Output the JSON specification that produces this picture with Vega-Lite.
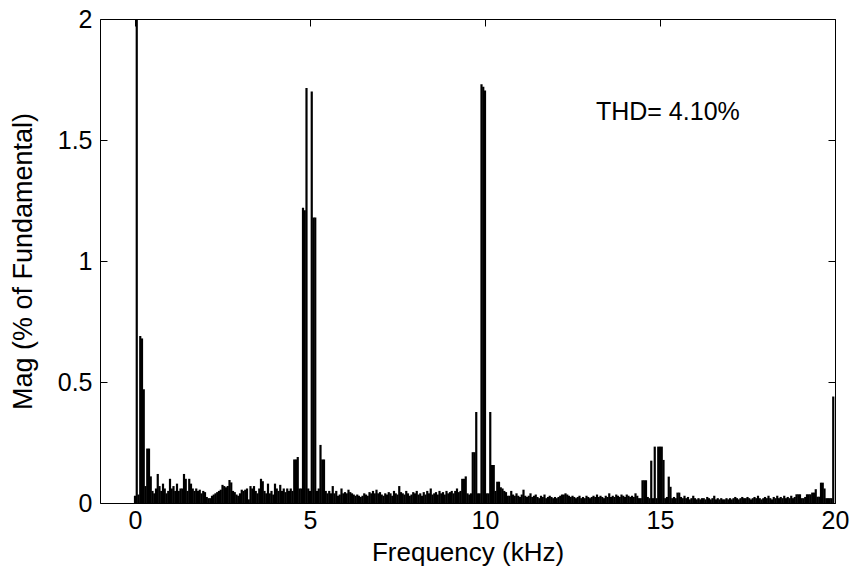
{
 "$schema": "https://vega.github.io/schema/vega-lite/v6.json",
 "width": 735,
 "height": 484,
 "autosize": {"type": "none"},
 "padding": {"left": 100, "top": 19, "right": 15, "bottom": 76},
 "background": "white",
 "config": {
  "view": {"stroke": "black", "strokeWidth": 1},
  "font": "Liberation Sans",
  "axis": {"labelFont": "Liberation Sans", "titleFont": "Liberation Sans", "labelColor": "black", "titleColor": "black", "titleFontWeight": "normal", "labelFontSize": 25, "titleFontSize": 26, "tickColor": "black", "domain": false, "grid": false, "tickSize": -7, "zindex": 1, "labelFlush": false}
 },
 "layer": [
  {
   "data": {"values": [
{"f":0,"m":0.03},{"f":0.05,"m":100},{"f":0.1,"m":0.035},{"f":0.15,"m":0.69},{"f":0.2,"m":0.68},{"f":0.25,"m":0.47},{"f":0.3,"m":0.07},{"f":0.35,"m":0.225},{"f":0.4,"m":0.225},{"f":0.45,"m":0.11},
{"f":0.5,"m":0.05},{"f":0.55,"m":0.04},{"f":0.6,"m":0.06},{"f":0.65,"m":0.12},{"f":0.7,"m":0.07},{"f":0.75,"m":0.05},{"f":0.8,"m":0.08},{"f":0.85,"m":0.06},{"f":0.9,"m":0.04},{"f":0.95,"m":0.05},
{"f":1,"m":0.1},{"f":1.05,"m":0.06},{"f":1.1,"m":0.07},{"f":1.15,"m":0.05},{"f":1.2,"m":0.08},{"f":1.25,"m":0.05},{"f":1.3,"m":0.06},{"f":1.35,"m":0.06},{"f":1.4,"m":0.12},{"f":1.45,"m":0.1},
{"f":1.5,"m":0.05},{"f":1.55,"m":0.1},{"f":1.6,"m":0.08},{"f":1.65,"m":0.06},{"f":1.7,"m":0.05},{"f":1.75,"m":0.06},{"f":1.8,"m":0.05},{"f":1.85,"m":0.055},{"f":1.9,"m":0.04},{"f":1.95,"m":0.05},
{"f":2,"m":0.045},{"f":2.05,"m":0.025},{"f":2.1,"m":0.02},{"f":2.15,"m":0.02},{"f":2.2,"m":0.03},{"f":2.25,"m":0.035},{"f":2.3,"m":0.04},{"f":2.35,"m":0.045},{"f":2.4,"m":0.05},{"f":2.45,"m":0.055},
{"f":2.5,"m":0.075},{"f":2.55,"m":0.07},{"f":2.6,"m":0.065},{"f":2.65,"m":0.07},{"f":2.7,"m":0.095},{"f":2.75,"m":0.085},{"f":2.8,"m":0.05},{"f":2.85,"m":0.045},{"f":2.9,"m":0.035},{"f":2.95,"m":0.03},
{"f":3,"m":0.04},{"f":3.05,"m":0.055},{"f":3.1,"m":0.05},{"f":3.15,"m":0.055},{"f":3.2,"m":0.06},{"f":3.25,"m":0.015},{"f":3.3,"m":0.07},{"f":3.35,"m":0.06},{"f":3.4,"m":0.07},{"f":3.45,"m":0.05},
{"f":3.5,"m":0.04},{"f":3.55,"m":0.06},{"f":3.6,"m":0.1},{"f":3.65,"m":0.09},{"f":3.7,"m":0.05},{"f":3.75,"m":0.04},{"f":3.8,"m":0.08},{"f":3.85,"m":0.04},{"f":3.9,"m":0.05},{"f":3.95,"m":0.035},
{"f":4,"m":0.08},{"f":4.05,"m":0.06},{"f":4.1,"m":0.05},{"f":4.15,"m":0.075},{"f":4.2,"m":0.05},{"f":4.25,"m":0.06},{"f":4.3,"m":0.045},{"f":4.35,"m":0.06},{"f":4.4,"m":0.05},{"f":4.45,"m":0.06},
{"f":4.5,"m":0.05},{"f":4.55,"m":0.18},{"f":4.6,"m":0.18},{"f":4.65,"m":0.19},{"f":4.7,"m":0.06},{"f":4.75,"m":0.06},{"f":4.8,"m":1.22},{"f":4.85,"m":1.21},{"f":4.9,"m":1.715},{"f":4.95,"m":0.06},
{"f":5,"m":0.05},{"f":5.05,"m":1.7},{"f":5.1,"m":1.18},{"f":5.15,"m":1.18},{"f":5.2,"m":0.05},{"f":5.25,"m":0.06},{"f":5.3,"m":0.24},{"f":5.35,"m":0.18},{"f":5.4,"m":0.18},{"f":5.45,"m":0.05},
{"f":5.5,"m":0.04},{"f":5.55,"m":0.05},{"f":5.6,"m":0.04},{"f":5.65,"m":0.07},{"f":5.7,"m":0.04},{"f":5.75,"m":0.05},{"f":5.8,"m":0.03},{"f":5.85,"m":0.035},{"f":5.9,"m":0.06},{"f":5.95,"m":0.04},
{"f":6,"m":0.045},{"f":6.05,"m":0.04},{"f":6.1,"m":0.055},{"f":6.15,"m":0.045},{"f":6.2,"m":0.04},{"f":6.25,"m":0.035},{"f":6.3,"m":0.03},{"f":6.35,"m":0.035},{"f":6.4,"m":0.03},{"f":6.45,"m":0.025},
{"f":6.5,"m":0.03},{"f":6.55,"m":0.04},{"f":6.6,"m":0.035},{"f":6.65,"m":0.03},{"f":6.7,"m":0.045},{"f":6.75,"m":0.04},{"f":6.8,"m":0.05},{"f":6.85,"m":0.04},{"f":6.9,"m":0.055},{"f":6.95,"m":0.04},
{"f":7,"m":0.045},{"f":7.05,"m":0.035},{"f":7.1,"m":0.03},{"f":7.15,"m":0.04},{"f":7.2,"m":0.035},{"f":7.25,"m":0.045},{"f":7.3,"m":0.04},{"f":7.35,"m":0.03},{"f":7.4,"m":0.05},{"f":7.45,"m":0.04},
{"f":7.5,"m":0.035},{"f":7.55,"m":0.07},{"f":7.6,"m":0.045},{"f":7.65,"m":0.04},{"f":7.7,"m":0.035},{"f":7.75,"m":0.05},{"f":7.8,"m":0.04},{"f":7.85,"m":0.03},{"f":7.9,"m":0.035},{"f":7.95,"m":0.045},
{"f":8,"m":0.04},{"f":8.05,"m":0.05},{"f":8.1,"m":0.035},{"f":8.15,"m":0.04},{"f":8.2,"m":0.03},{"f":8.25,"m":0.045},{"f":8.3,"m":0.035},{"f":8.35,"m":0.05},{"f":8.4,"m":0.04},{"f":8.45,"m":0.06},
{"f":8.5,"m":0.035},{"f":8.55,"m":0.04},{"f":8.6,"m":0.045},{"f":8.65,"m":0.035},{"f":8.7,"m":0.05},{"f":8.75,"m":0.04},{"f":8.8,"m":0.045},{"f":8.85,"m":0.035},{"f":8.9,"m":0.05},{"f":8.95,"m":0.04},
{"f":9,"m":0.045},{"f":9.05,"m":0.05},{"f":9.1,"m":0.04},{"f":9.15,"m":0.05},{"f":9.2,"m":0.06},{"f":9.25,"m":0.045},{"f":9.3,"m":0.05},{"f":9.35,"m":0.1},{"f":9.4,"m":0.1},{"f":9.45,"m":0.11},
{"f":9.5,"m":0.04},{"f":9.55,"m":0.035},{"f":9.6,"m":0.04},{"f":9.65,"m":0.21},{"f":9.7,"m":0.21},{"f":9.75,"m":0.376},{"f":9.8,"m":0.04},{"f":9.85,"m":0.04},{"f":9.9,"m":1.73},{"f":9.95,"m":1.72},
{"f":10,"m":1.705},{"f":10.05,"m":0.04},{"f":10.1,"m":0.04},{"f":10.15,"m":0.376},{"f":10.2,"m":0.157},{"f":10.25,"m":0.157},{"f":10.3,"m":0.05},{"f":10.35,"m":0.088},{"f":10.4,"m":0.088},{"f":10.45,"m":0.065},
{"f":10.5,"m":0.06},{"f":10.55,"m":0.05},{"f":10.6,"m":0.045},{"f":10.65,"m":0.03},{"f":10.7,"m":0.03},{"f":10.75,"m":0.05},{"f":10.8,"m":0.035},{"f":10.85,"m":0.03},{"f":10.9,"m":0.04},{"f":10.95,"m":0.03},
{"f":11,"m":0.025},{"f":11.05,"m":0.035},{"f":11.1,"m":0.055},{"f":11.15,"m":0.03},{"f":11.2,"m":0.025},{"f":11.25,"m":0.03},{"f":11.3,"m":0.04},{"f":11.35,"m":0.025},{"f":11.4,"m":0.03},{"f":11.45,"m":0.035},
{"f":11.5,"m":0.025},{"f":11.55,"m":0.02},{"f":11.6,"m":0.03},{"f":11.65,"m":0.025},{"f":11.7,"m":0.035},{"f":11.75,"m":0.02},{"f":11.8,"m":0.025},{"f":11.85,"m":0.03},{"f":11.9,"m":0.025},{"f":11.95,"m":0.02},
{"f":12,"m":0.025},{"f":12.05,"m":0.02},{"f":12.1,"m":0.025},{"f":12.15,"m":0.03},{"f":12.2,"m":0.035},{"f":12.25,"m":0.035},{"f":12.3,"m":0.04},{"f":12.35,"m":0.035},{"f":12.4,"m":0.03},{"f":12.45,"m":0.025},
{"f":12.5,"m":0.03},{"f":12.55,"m":0.025},{"f":12.6,"m":0.02},{"f":12.65,"m":0.025},{"f":12.7,"m":0.03},{"f":12.75,"m":0.02},{"f":12.8,"m":0.025},{"f":12.85,"m":0.02},{"f":12.9,"m":0.03},{"f":12.95,"m":0.025},
{"f":13,"m":0.02},{"f":13.05,"m":0.025},{"f":13.1,"m":0.03},{"f":13.15,"m":0.025},{"f":13.2,"m":0.035},{"f":13.25,"m":0.025},{"f":13.3,"m":0.03},{"f":13.35,"m":0.025},{"f":13.4,"m":0.02},{"f":13.45,"m":0.03},
{"f":13.5,"m":0.025},{"f":13.55,"m":0.04},{"f":13.6,"m":0.025},{"f":13.65,"m":0.03},{"f":13.7,"m":0.025},{"f":13.75,"m":0.035},{"f":13.8,"m":0.03},{"f":13.85,"m":0.025},{"f":13.9,"m":0.035},{"f":13.95,"m":0.03},
{"f":14,"m":0.025},{"f":14.05,"m":0.035},{"f":14.1,"m":0.03},{"f":14.15,"m":0.025},{"f":14.2,"m":0.03},{"f":14.25,"m":0.025},{"f":14.3,"m":0.04},{"f":14.35,"m":0.03},{"f":14.4,"m":0.02},{"f":14.45,"m":0.02},
{"f":14.5,"m":0.094},{"f":14.55,"m":0.094},{"f":14.6,"m":0.094},{"f":14.65,"m":0.025},{"f":14.7,"m":0.02},{"f":14.75,"m":0.175},{"f":14.8,"m":0.02},{"f":14.85,"m":0.233},{"f":14.9,"m":0.02},{"f":14.95,"m":0.233},
{"f":15,"m":0.233},{"f":15.05,"m":0.233},{"f":15.1,"m":0.178},{"f":15.15,"m":0.02},{"f":15.2,"m":0.025},{"f":15.25,"m":0.109},{"f":15.3,"m":0.067},{"f":15.35,"m":0.02},{"f":15.4,"m":0.025},{"f":15.45,"m":0.02},
{"f":15.5,"m":0.043},{"f":15.55,"m":0.043},{"f":15.6,"m":0.025},{"f":15.65,"m":0.02},{"f":15.7,"m":0.03},{"f":15.75,"m":0.02},{"f":15.8,"m":0.025},{"f":15.85,"m":0.015},{"f":15.9,"m":0.02},{"f":15.95,"m":0.03},
{"f":16,"m":0.02},{"f":16.05,"m":0.015},{"f":16.1,"m":0.02},{"f":16.15,"m":0.015},{"f":16.2,"m":0.02},{"f":16.25,"m":0.02},{"f":16.3,"m":0.015},{"f":16.35,"m":0.025},{"f":16.4,"m":0.02},{"f":16.45,"m":0.015},
{"f":16.5,"m":0.02},{"f":16.55,"m":0.03},{"f":16.6,"m":0.015},{"f":16.65,"m":0.02},{"f":16.7,"m":0.015},{"f":16.75,"m":0.02},{"f":16.8,"m":0.015},{"f":16.85,"m":0.015},{"f":16.9,"m":0.02},{"f":16.95,"m":0.015},
{"f":17,"m":0.02},{"f":17.05,"m":0.015},{"f":17.1,"m":0.02},{"f":17.15,"m":0.025},{"f":17.2,"m":0.02},{"f":17.25,"m":0.015},{"f":17.3,"m":0.02},{"f":17.35,"m":0.025},{"f":17.4,"m":0.02},{"f":17.45,"m":0.02},
{"f":17.5,"m":0.025},{"f":17.55,"m":0.02},{"f":17.6,"m":0.015},{"f":17.65,"m":0.02},{"f":17.7,"m":0.025},{"f":17.75,"m":0.02},{"f":17.8,"m":0.03},{"f":17.85,"m":0.02},{"f":17.9,"m":0.015},{"f":17.95,"m":0.02},
{"f":18,"m":0.025},{"f":18.05,"m":0.02},{"f":18.1,"m":0.03},{"f":18.15,"m":0.02},{"f":18.2,"m":0.015},{"f":18.25,"m":0.025},{"f":18.3,"m":0.02},{"f":18.35,"m":0.03},{"f":18.4,"m":0.02},{"f":18.45,"m":0.025},
{"f":18.5,"m":0.02},{"f":18.55,"m":0.03},{"f":18.6,"m":0.02},{"f":18.65,"m":0.025},{"f":18.7,"m":0.02},{"f":18.75,"m":0.03},{"f":18.8,"m":0.02},{"f":18.85,"m":0.025},{"f":18.9,"m":0.036},{"f":18.95,"m":0.036},
{"f":19,"m":0.036},{"f":19.05,"m":0.02},{"f":19.1,"m":0.02},{"f":19.15,"m":0.025},{"f":19.2,"m":0.036},{"f":19.25,"m":0.036},{"f":19.3,"m":0.036},{"f":19.35,"m":0.043},{"f":19.4,"m":0.043},{"f":19.45,"m":0.057},
{"f":19.5,"m":0.026},{"f":19.55,"m":0.026},{"f":19.6,"m":0.084},{"f":19.65,"m":0.084},{"f":19.7,"m":0.06},{"f":19.75,"m":0.02},{"f":19.8,"m":0.02},{"f":19.85,"m":0.02},{"f":19.9,"m":0.02},{"f":19.95,"m":0.44}
   ]},
   "mark": {"type": "bar", "color": "black", "width": 2.2, "clip": true},
   "encoding": {
    "x": {"field": "f", "type": "quantitative", "scale": {"domain": [-1, 20], "nice": false, "zero": false, "padding": 0},
          "axis": {"orient": "bottom", "values": [0, 5, 10, 15, 20], "title": "Frequency (kHz)", "labelPadding": 12, "titlePadding": 6}},
    "y": {"field": "m", "type": "quantitative", "scale": {"domain": [0, 2], "nice": false, "padding": 0},
          "axis": {"orient": "left", "values": [0, 0.5, 1, 1.5, 2], "labelExpr": "datum.value", "title": "Mag (% of Fundamental)", "titleFontSize": 27, "labelPadding": 15, "titlePadding": 20}}
   }
  },
  {
   "data": {"values": [{"label": "THD= 4.10%", "f": 13.17, "m": 1.616}]},
   "mark": {"type": "text", "align": "left", "baseline": "middle", "fontSize": 25, "color": "black", "font": "Liberation Sans"},
   "encoding": {
    "x": {"field": "f", "type": "quantitative", "axis": {"orient": "top", "values": [0, 5, 10, 15, 20], "labels": false, "title": null}},
    "y": {"field": "m", "type": "quantitative", "axis": {"orient": "right", "values": [0, 0.5, 1, 1.5, 2], "labels": false, "title": null}},
    "text": {"field": "label"}
   }
  }
 ],
 "resolve": {"axis": {"x": "independent", "y": "independent"}}
}
